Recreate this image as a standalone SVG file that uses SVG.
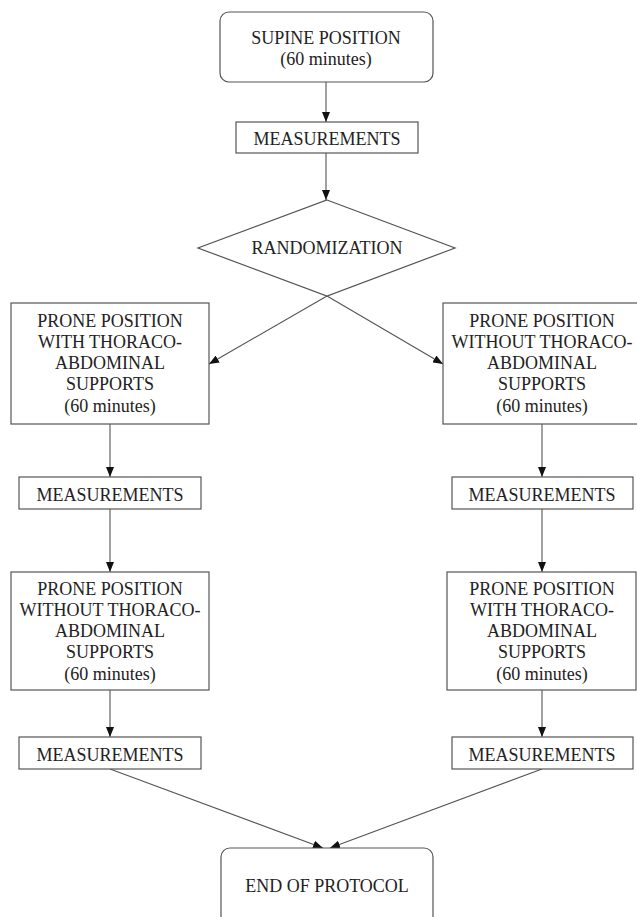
<svg xmlns="http://www.w3.org/2000/svg" width="637" height="917" viewBox="0 0 637 917">
<style>
.box{fill:#fff;stroke:#555;stroke-width:1.2}
.t{font-family:"Liberation Serif","Times New Roman",serif;font-size:18px;fill:#222;text-anchor:middle}
.c{fill:none;stroke:#555;stroke-width:1.1}
</style>
<defs>
<marker id="ah" markerWidth="10" markerHeight="8" refX="10" refY="4" orient="auto" markerUnits="userSpaceOnUse">
<path d="M0,0 L10,4 L0,8 Z" fill="#111"/>
</marker>
</defs>
<rect width="637" height="917" fill="#fff"/>
<g id="connectors">
<line class="c" x1="326" y1="82" x2="326" y2="122" marker-end="url(#ah)"/>
<line class="c" x1="326" y1="153" x2="326" y2="200" marker-end="url(#ah)"/>
<line class="c" x1="327" y1="296" x2="209" y2="364" marker-end="url(#ah)"/>
<line class="c" x1="327" y1="296" x2="443" y2="364" marker-end="url(#ah)"/>
<line class="c" x1="110" y1="424" x2="110" y2="477" marker-end="url(#ah)"/>
<line class="c" x1="542" y1="424" x2="542" y2="477" marker-end="url(#ah)"/>
<line class="c" x1="110" y1="509" x2="110" y2="572" marker-end="url(#ah)"/>
<line class="c" x1="542" y1="509" x2="542" y2="572" marker-end="url(#ah)"/>
<line class="c" x1="110" y1="690" x2="110" y2="737" marker-end="url(#ah)"/>
<line class="c" x1="542" y1="690" x2="542" y2="737" marker-end="url(#ah)"/>
<line class="c" x1="110" y1="769" x2="323" y2="848" marker-end="url(#ah)"/>
<line class="c" x1="542" y1="769" x2="330" y2="848" marker-end="url(#ah)"/>
</g>
<g id="supine">
<rect class="box" x="220" y="12" width="213" height="70" rx="9"/>
<text class="t" x="326" y="44">SUPINE POSITION</text>
<text class="t" x="326" y="65">(60 minutes)</text>
</g>
<g id="meas0">
<rect class="box" x="236" y="122" width="182" height="31"/>
<text class="t" x="327" y="145">MEASUREMENTS</text>
</g>
<g id="randomization">
<polygon class="box" points="327,200 455,248 327,296 198,248"/>
<text class="t" x="327" y="254">RANDOMIZATION</text>
</g>
<g id="left1">
<rect class="box" x="11" y="303" width="198" height="121"/>
<text class="t" x="110" y="327">PRONE POSITION</text>
<text class="t" x="110" y="348">WITH THORACO-</text>
<text class="t" x="110" y="369">ABDOMINAL</text>
<text class="t" x="110" y="390">SUPPORTS</text>
<text class="t" x="110" y="412">(60 minutes)</text>
</g>
<g id="right1">
<rect class="box" x="443" y="303" width="200" height="121"/>
<text class="t" x="542" y="327">PRONE POSITION</text>
<text class="t" x="542" y="348">WITHOUT THORACO-</text>
<text class="t" x="542" y="369">ABDOMINAL</text>
<text class="t" x="542" y="390">SUPPORTS</text>
<text class="t" x="542" y="412">(60 minutes)</text>
</g>
<g id="meas-l1">
<rect class="box" x="19" y="477" width="182" height="32"/>
<text class="t" x="110" y="501">MEASUREMENTS</text>
</g>
<g id="meas-r1">
<rect class="box" x="452" y="477" width="181" height="32"/>
<text class="t" x="542" y="501">MEASUREMENTS</text>
</g>
<g id="left2">
<rect class="box" x="11" y="572" width="198" height="118"/>
<text class="t" x="110" y="595">PRONE POSITION</text>
<text class="t" x="110" y="616">WITHOUT THORACO-</text>
<text class="t" x="110" y="637">ABDOMINAL</text>
<text class="t" x="110" y="658">SUPPORTS</text>
<text class="t" x="110" y="680">(60 minutes)</text>
</g>
<g id="right2">
<rect class="box" x="447" y="572" width="189" height="118"/>
<text class="t" x="542" y="595">PRONE POSITION</text>
<text class="t" x="542" y="616">WITH THORACO-</text>
<text class="t" x="542" y="637">ABDOMINAL</text>
<text class="t" x="542" y="658">SUPPORTS</text>
<text class="t" x="542" y="680">(60 minutes)</text>
</g>
<g id="meas-l2">
<rect class="box" x="19" y="737" width="182" height="32"/>
<text class="t" x="110" y="761">MEASUREMENTS</text>
</g>
<g id="meas-r2">
<rect class="box" x="452" y="737" width="181" height="32"/>
<text class="t" x="542" y="761">MEASUREMENTS</text>
</g>
<g id="end">
<rect class="box" x="221" y="848" width="212" height="80" rx="9"/>
<text class="t" x="327" y="892">END OF PROTOCOL</text>
</g>
</svg>
